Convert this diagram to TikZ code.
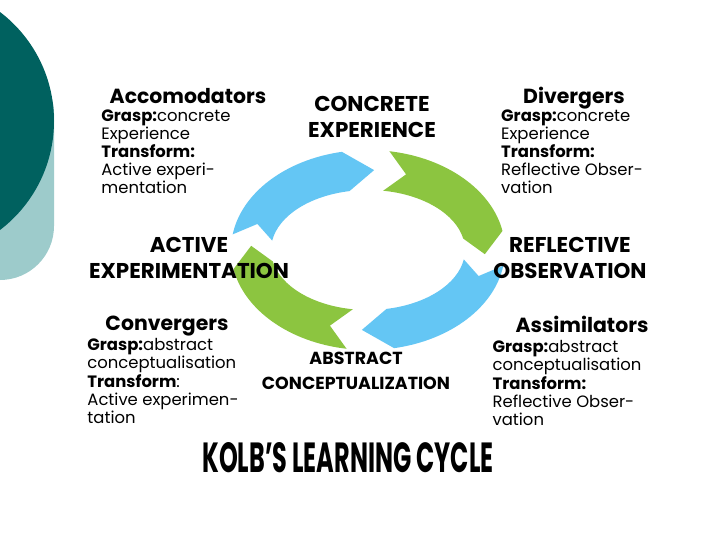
\documentclass[tikz,border=0pt]{standalone}
\usepackage{fontspec}
\setmainfont{Poppins}
\usetikzlibrary{calc,positioning}
\definecolor{tealdark}{HTML}{00615F}
\definecolor{teallight}{HTML}{9DCBCB}
\definecolor{cycblue}{HTML}{64C6F4}
\definecolor{cycgreen}{HTML}{8CC540}
\tikzset{
  phase/.style={font=\bfseries\fontsize{21.5}{26.5}\selectfont, align=center, inner sep=0pt},
  learner/.style={font=\bfseries\fontsize{20.5}{22}\selectfont, inner sep=0pt,
    text height=14bp, text depth=4bp},
  mode/.style={font=\fontsize{16.5}{18.3}\selectfont, align=left, inner sep=0pt},
}

\begin{document}
\begin{tikzpicture}[x=1bp, y=-1bp]
  \useasboundingbox (0,0) rectangle (720,540);
  \fill[white] (0,0) rectangle (720,540);
  % slide decoration
  \begin{scope}
    \clip (0,0) rectangle (720,540);
    \fill[teallight, rounded corners=54bp] (-80,60) rectangle (54,280);
    \fill[tealdark] (-83,121) circle[radius=137];
  \end{scope}

  % the cycle
  \coordinate (c) at (368,250);
  \foreach \g/\col in {185/cycblue, 275/cycgreen, 5/cycblue, 95/cycgreen}{
    \fill[\col, shift={(c)}]
      (\g+4:137 and 100) arc[start angle=\g+4, end angle=\g+74, x radius=137, y radius=100]
      -- (\g+88:117 and 80)
      -- (\g+74:97 and 60) arc[start angle=\g+74, end angle=\g+4, x radius=97, y radius=60]
      -- (\g+14:117 and 80) -- cycle;
  }

  % stages
  \node[phase] (ce) at (372,117) {CONCRETE\\EXPERIENCE};
  \node[phase] (ro) at (570,258) {REFLECTIVE\\OBSERVATION};
  \node[phase, font=\bfseries\fontsize{17.5}{25}\selectfont] (ac) at (356,371) {ABSTRACT\\CONCEPTUALIZATION};
  \node[phase] (ae) at (189,258) {ACTIVE\\EXPERIMENTATION};

  % learning styles
  \node[learner, anchor=base] (acc) at (188,104) {Accomodators};
  \node[mode, below=1bp of acc, xshift=-22bp] (acct)
    {\textbf{Grasp:}concrete\\Experience\\\textbf{Transform:}\\Active experi-\\mentation};
  \node[learner, anchor=base] (div) at (574,104) {Divergers};
  \node[mode, below=1bp of div, xshift=-2bp] (divt)
    {\textbf{Grasp:}concrete\\Experience\\\textbf{Transform:}\\Reflective Obser-\\vation};
  \node[learner, anchor=base] (conv) at (167,330) {Convergers};
  \node[mode, below=4bp of conv, xshift=-4bp] (convt)
    {\textbf{Grasp:}abstract\\conceptualisation\\\textbf{Transform}:\\Active experimen-\\tation};
  \node[learner, anchor=base] (assim) at (582,332) {Assimilators};
  \node[mode, below=4bp of assim, xshift=-15bp] (assimt)
    {\textbf{Grasp:}abstract\\conceptualisation\\\textbf{Transform:}\\Reflective Obser-\\vation};

  % caption
  \node[inner sep=0pt] (kolb) at (348,458)
    {\resizebox{291bp}{30bp}{\bfseries KOLB’S LEARNING CYCLE}};
\end{tikzpicture}
\end{document}
